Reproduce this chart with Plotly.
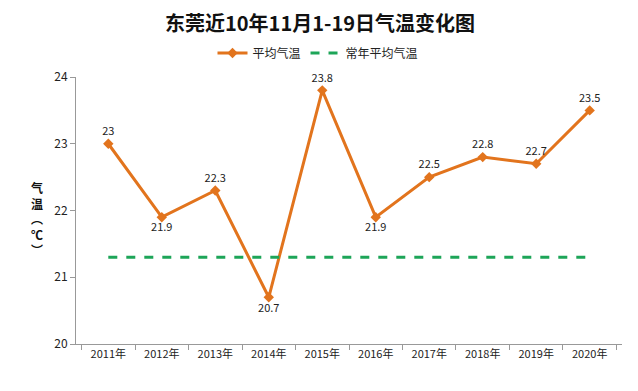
import plotly.graph_objects as go

years = ["2011年", "2012年", "2013年", "2014年", "2015年", "2016年", "2017年", "2018年", "2019年", "2020年"]
avg_temp = [23, 21.9, 22.3, 20.7, 23.8, 21.9, 22.5, 22.8, 22.7, 23.5]
normal_temp = [21.3] * 10
label_pos = ["top center", "bottom center", "top center", "bottom center", "top center",
             "bottom center", "top center", "top center", "top center", "top center"]

font = "Noto Sans CJK SC"
# page body has an 8px margin in the 638x391 window; keep the figure inside it
W, H = 622, 375

fig = go.Figure()
fig.add_trace(go.Scatter(
    x=years, y=avg_temp, name="平均气温", mode="lines+markers+text",
    line=dict(color="#E2741D", width=3),
    marker=dict(symbol="diamond", size=8, color="#E2741D"),
    text=[str(v) for v in avg_temp], textposition=label_pos,
    textfont=dict(size=11, color="#222222", family=font),
    cliponaxis=False,
))
fig.add_trace(go.Scatter(
    x=years, y=normal_temp, name="常年平均气温", mode="lines",
    line=dict(color="#1DA558", width=3, dash="dash"),
))

fig.update_layout(
    width=W, height=H,
    margin=dict(l=68, r=8, t=69, b=39, autoexpand=False),
    paper_bgcolor="white", plot_bgcolor="white",
    font=dict(family=font, size=11, color="#222222"),
    title=dict(text="<b>东莞近10年11月1-19日气温变化图</b>", xref="container",
               x=(320 - 8) / W, xanchor="center",
               yref="container", y=1 - 16 / H, yanchor="middle",
               font=dict(size=20, color="#111111", family=font)),
    legend=dict(orientation="h", xref="container", x=(318 - 8) / W, xanchor="center",
                yref="container", y=1 - 45 / H, yanchor="middle",
                font=dict(size=12, family=font), traceorder="normal"),
    showlegend=True,
)
fig.update_xaxes(
    type="category", showline=True, linecolor="#999999", linewidth=1,
    ticks="outside", tickson="boundaries", ticklen=5, tickcolor="#999999",
    showgrid=False, tickfont=dict(size=11), automargin=False,
)
fig.update_yaxes(
    range=[20, 24], dtick=1, showline=True, linecolor="#999999", linewidth=1,
    ticks="outside", ticklen=5, tickcolor="#999999", showgrid=False,
    zeroline=False, tickfont=dict(size=12), automargin=False,
)
fig.add_annotation(
    text="<b>气<br>温<br>︵<br>℃<br>︶</b>", xref="paper", yref="paper",
    x=-0.0714, y=0.47, xanchor="center", yanchor="middle", showarrow=False,
    font=dict(size=12, family=font, color="#111111"), align="center",
)

fig.write_html("out.html")
